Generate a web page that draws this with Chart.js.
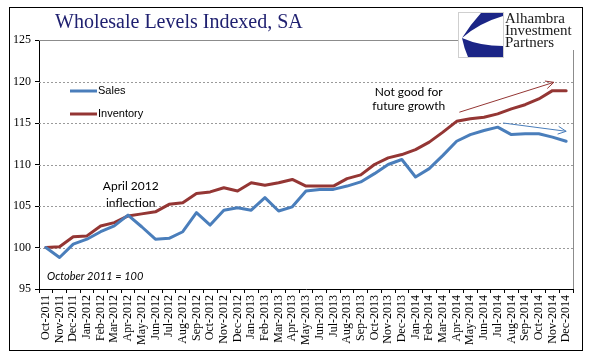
<!DOCTYPE html>
<html><head><meta charset="utf-8">
<script src="https://cdn.jsdelivr.net/npm/chart.js@4"></script>
<style>html,body{margin:0;padding:0;background:#fff}#wrap{width:596px;height:358px}</style>
</head><body><div id="wrap"><canvas id="c" width="596" height="358"></canvas></div>
<script>
const categories = ['Oct-2011','Nov-2011','Dec-2011','Jan-2012','Feb-2012','Mar-2012','Apr-2012','May-2012','Jun-2012','Jul-2012','Aug-2012','Sep-2012','Oct-2012','Nov-2012','Dec-2012','Jan-2013','Feb-2013','Mar-2013','Apr-2013','May-2013','Jun-2013','Jul-2013','Aug-2013','Sep-2013','Oct-2013','Nov-2013','Dec-2013','Jan-2014','Feb-2014','Mar-2014','Apr-2014','May-2014','Jun-2014','Jul-2014','Aug-2014','Sep-2014','Oct-2014','Nov-2014','Dec-2014'];
const salesValues = [100, 98.8, 100.4, 101.0, 101.9, 102.6, 103.9, 102.5, 101.0, 101.1, 101.9, 104.2, 102.7, 104.5, 104.8, 104.5, 106.0, 104.4, 104.9, 106.8, 107.0, 107.0, 107.4, 107.9, 108.9, 110.0, 110.6, 108.5, 109.5, 111.1, 112.8, 113.6, 114.1, 114.5, 113.6, 113.7, 113.7, 113.3, 112.8];
const inventoryValues = [100, 100.1, 101.3, 101.4, 102.6, 103.0, 103.8, 104.05, 104.3, 105.2, 105.4, 106.5, 106.7, 107.2, 106.8, 107.8, 107.5, 107.8, 108.2, 107.4, 107.4, 107.4, 108.3, 108.75, 110.0, 110.8, 111.2, 111.8, 112.7, 113.9, 115.2, 115.5, 115.7, 116.1, 116.7, 117.2, 117.9, 118.9, 118.9];
const seriesNames = ['Sales', 'Inventory'];
const yMin = 95, yMax = 125, yStep = 5;
const titleText = 'Wholesale Levels Indexed, SA';
const logoLines = ['Alhambra', 'Investment', 'Partners'];
// annotation anchors in data space: [category index, value]
const noteTexts = [
  {text: 'April 2012', at: [6.2, 107.35]},
  {text: 'inflection', at: [6.2, 105.4]},
  {text: 'Not good for', at: [26.5, 118.7]},
  {text: 'future growth', at: [26.5, 117.0]}
];
const baseNote = {text: 'October 2011 = 100', at: [3.6, 96.5]};
const trendArrows = [
  {from: [30.2, 116.3], to: [37.1, 119.9], series: 1},
  {from: [33.4, 115.0], to: [38.0, 114.0], series: 0}
];

const BLUE = '#4A7EBB', RED = '#943634';
const colors = [BLUE, RED];

const deco = {
  id: 'deco',
  beforeDraw(chart) {
    const ctx = chart.ctx;
    ctx.save();
    ctx.fillStyle = '#fff';
    ctx.fillRect(0, 0, chart.width, chart.height);
    ctx.restore();
  },
  beforeDatasetsDraw(chart) {
    const ctx = chart.ctx, y = chart.scales.y, a = chart.chartArea;
    ctx.save();
    ctx.lineWidth = 1;
    ctx.strokeStyle = '#9a9a9a';
    ctx.setLineDash([2, 2]);
    for (let v = yMin + yStep; v < yMax; v += yStep) {
      const py = Math.round(y.getPixelForValue(v)) + 0.5;
      ctx.beginPath(); ctx.moveTo(a.left, py); ctx.lineTo(a.right, py); ctx.stroke();
    }
    ctx.setLineDash([]);
    ctx.strokeStyle = '#8c8c8c';
    const top = Math.round(y.getPixelForValue(yMax)) + 0.5;
    ctx.beginPath(); ctx.moveTo(a.left, top); ctx.lineTo(a.right, top); ctx.stroke();
    ctx.beginPath(); ctx.moveTo(Math.round(a.right) + 0.5, top); ctx.lineTo(Math.round(a.right) + 0.5, a.bottom); ctx.stroke();
    ctx.restore();
  },
  afterDraw(chart) {
    const ctx = chart.ctx, xs = chart.scales.x, ys = chart.scales.y;
    const P = (p) => [xs.getPixelForValue(p[0]), ys.getPixelForValue(p[1])];
    ctx.save();
    // outer frame
    ctx.strokeStyle = '#000'; ctx.lineWidth = 1;
    ctx.strokeRect(9.5, 7.5, 573, 343);
    // title
    ctx.fillStyle = '#1f2070';
    ctx.font = '20px "Liberation Serif"';
    ctx.textBaseline = 'middle'; ctx.textAlign = 'left';
    ctx.fillText(titleText, 55, 23);
    // logo
    ctx.fillStyle = '#fff';
    ctx.fillRect(458, 9, 121, 41);
    ctx.strokeStyle = '#cfcfcf';
    ctx.strokeRect(458.5, 12.5, 45, 45);
    ctx.fillStyle = '#1b2586';
    ctx.beginPath();
    ctx.moveTo(481, 13); ctx.lineTo(503, 13); ctx.lineTo(503, 16);
    ctx.quadraticCurveTo(479, 23, 462, 38);
    ctx.quadraticCurveTo(470, 25, 481, 13);
    ctx.closePath(); ctx.fill();
    ctx.beginPath();
    ctx.moveTo(462, 38);
    ctx.quadraticCurveTo(480, 46, 503, 46);
    ctx.lineTo(503, 57); ctx.lineTo(468, 57);
    ctx.quadraticCurveTo(464, 48, 462, 38);
    ctx.closePath(); ctx.fill();
    ctx.fillStyle = '#1a1a1a';
    ctx.font = '15px "Liberation Serif"';
    ctx.textBaseline = 'alphabetic';
    logoLines.forEach((t, i) => ctx.fillText(t, 505, 23 + i * 12));
    // legend
    ctx.font = '11px "Liberation Sans"';
    ctx.textBaseline = 'middle';
    seriesNames.forEach((n, i) => {
      const ly = 91 + i * 23;
      ctx.strokeStyle = colors[i]; ctx.lineWidth = 3;
      ctx.beginPath(); ctx.moveTo(70, ly); ctx.lineTo(97, ly); ctx.stroke();
      ctx.fillStyle = '#000';
      ctx.fillText(n, 98, ly);
    });
    // notes
    ctx.fillStyle = '#000';
    ctx.textAlign = 'center';
    ctx.font = '12px Lato';
    noteTexts.forEach(n => { const p = P(n.at); ctx.fillText(n.text, p[0], p[1]); });
    ctx.font = 'italic 11px Lato';
    const bp = P(baseNote.at);
    ctx.fillText(baseNote.text, bp[0], bp[1]);
    // arrows
    trendArrows.forEach(ar => {
      const f = P(ar.from), t = P(ar.to);
      ctx.strokeStyle = colors[ar.series]; ctx.lineWidth = 1;
      ctx.beginPath(); ctx.moveTo(f[0], f[1]); ctx.lineTo(t[0], t[1]); ctx.stroke();
      const ang = Math.atan2(t[1] - f[1], t[0] - f[0]);
      const L = 9, w = 0.45;
      ctx.beginPath();
      ctx.moveTo(t[0] - L * Math.cos(ang - w), t[1] - L * Math.sin(ang - w));
      ctx.lineTo(t[0], t[1]);
      ctx.lineTo(t[0] - L * Math.cos(ang + w), t[1] - L * Math.sin(ang + w));
      ctx.stroke();
    });
    ctx.restore();
  }
};

new Chart(document.getElementById('c'), {
  type: 'line',
  data: {
    labels: categories,
    datasets: [
      {label: seriesNames[0], data: salesValues, borderColor: BLUE, backgroundColor: BLUE, borderWidth: 3, pointRadius: 0, tension: 0, borderJoinStyle: 'round', borderCapStyle: 'round'},
      {label: seriesNames[1], data: inventoryValues, borderColor: RED, backgroundColor: RED, borderWidth: 3, pointRadius: 0, tension: 0, borderJoinStyle: 'round', borderCapStyle: 'round'}
    ]
  },
  options: {
    responsive: false,
    devicePixelRatio: 1,
    animation: false,
    layout: {padding: {left: 0, top: 40, right: 23, bottom: 0}},
    plugins: {legend: {display: false}, title: {display: false}, tooltip: {enabled: false}},
    scales: {
      x: {
        type: 'category',
        offset: true,
        grid: {offset: true, drawOnChartArea: false, tickLength: 4, color: '#000'},
        border: {color: '#000', width: 1},
        ticks: {autoSkip: false, minRotation: 90, maxRotation: 90, padding: 2, color: '#000', font: {family: '"Liberation Serif"', size: 12}},
        afterFit(s) { s.height = 69; }
      },
      y: {
        min: yMin, max: yMax,
        grid: {drawOnChartArea: false, tickLength: 4, color: '#000'},
        border: {color: '#000', width: 1},
        ticks: {stepSize: yStep, padding: 4, color: '#000', font: {family: '"Liberation Serif"', size: 12}},
        afterFit(s) { s.width = 39; }
      }
    }
  },
  plugins: [deco]
});
</script>
</body></html>
